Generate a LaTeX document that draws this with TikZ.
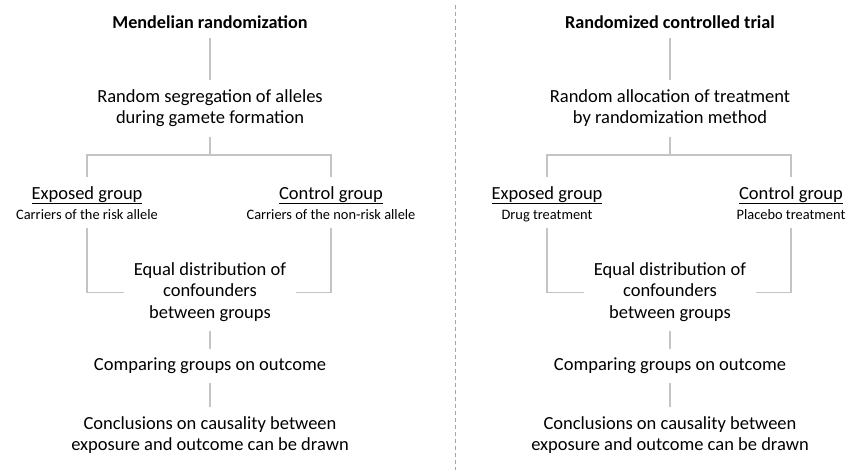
\documentclass[tikz,border=0pt]{standalone}
\usepackage{fontspec}
\setmainfont{Carlito}
\usepackage{tikz}
\usetikzlibrary{positioning}

\definecolor{linegray}{RGB}{196,196,196}
\definecolor{divgray}{RGB}{165,165,165}

\tikzset{
  stage/.style={align=center, inner xsep=10pt, inner ysep=6.5pt,
    font=\fontsize{18.5}{21.5}\selectfont},
  heading/.style={inner sep=3pt, font=\fontsize{18.2}{21.5}\selectfont\bfseries},
  grp/.style={align=center, inner xsep=2pt, inner ysep=3pt,
    font=\fontsize{18.5}{20}\selectfont},
  link/.style={linegray, line width=1.3pt},
}
\newcommand{\grptop}[1]{\rule{0pt}{19pt}\underline{#1}}
\newcommand{\grpsub}[1]{{\fontsize{14.4}{20}\selectfont\strut #1}}

\begin{document}
\begin{tikzpicture}[x=1pt, y=-1pt]
\useasboundingbox (0,0) rectangle (851,471);

% divider between the two designs
\draw[divgray, line width=0.6pt, dash pattern=on 4pt off 3pt] (455,5) -- (455,470);

% Mendelian randomization
\node[heading] (mrTitle) at (210,24) {\strut Mendelian randomization};
\node[stage] (mrRand) at (210,108.5) {\strut Random segregation of alleles\\ \strut during gamete formation};
\coordinate (mrSplit) at (210,155);
\node[grp] (mrExp) at (87,202.5) {\grptop{Exposed group}\\ \grpsub{Carriers of the risk allele}};
\node[grp] (mrCtl) at (331,202.5) {\grptop{Control group}\\ \grpsub{Carriers of the non-risk allele}};
\node[stage] (mrEq) at (210,292.5) {\strut Equal distribution of\\ \strut confounders\\ \strut between groups};
\node[stage] (mrComp) at (210,366) {\strut Comparing groups on outcome};
\node[stage] (mrConc) at (210,435.5) {\strut Conclusions on causality between\\ \strut exposure and outcome can be drawn};

\draw[link] (mrTitle) -- (mrRand);
\draw[link] (mrRand) -- (mrSplit);
\draw[link] (mrExp.north) |- (mrSplit) -| (mrCtl.north);
\draw[link] (mrExp.south) |- (mrEq.west);
\draw[link] (mrCtl.south) |- (mrEq.east);
\draw[link] (mrEq) -- (mrComp);
\draw[link] (mrComp) -- (mrConc);

% Randomized controlled trial
\node[heading] (rctTitle) at (670,24) {\strut Randomized controlled trial};
\node[stage] (rctRand) at (670,108.5) {\strut Random allocation of treatment\\ \strut by randomization method};
\coordinate (rctSplit) at (670,155);
\node[grp] (rctExp) at (547,202.5) {\grptop{Exposed group}\\ \grpsub{Drug treatment}};
\node[grp] (rctCtl) at (791,202.5) {\grptop{Control group}\\ \grpsub{Placebo treatment}};
\node[stage] (rctEq) at (670,292.5) {\strut Equal distribution of\\ \strut confounders\\ \strut between groups};
\node[stage] (rctComp) at (670,366) {\strut Comparing groups on outcome};
\node[stage] (rctConc) at (670,435.5) {\strut Conclusions on causality between\\ \strut exposure and outcome can be drawn};

\draw[link] (rctTitle) -- (rctRand);
\draw[link] (rctRand) -- (rctSplit);
\draw[link] (rctExp.north) |- (rctSplit) -| (rctCtl.north);
\draw[link] (rctExp.south) |- (rctEq.west);
\draw[link] (rctCtl.south) |- (rctEq.east);
\draw[link] (rctEq) -- (rctComp);
\draw[link] (rctComp) -- (rctConc);

\end{tikzpicture}
\end{document}
